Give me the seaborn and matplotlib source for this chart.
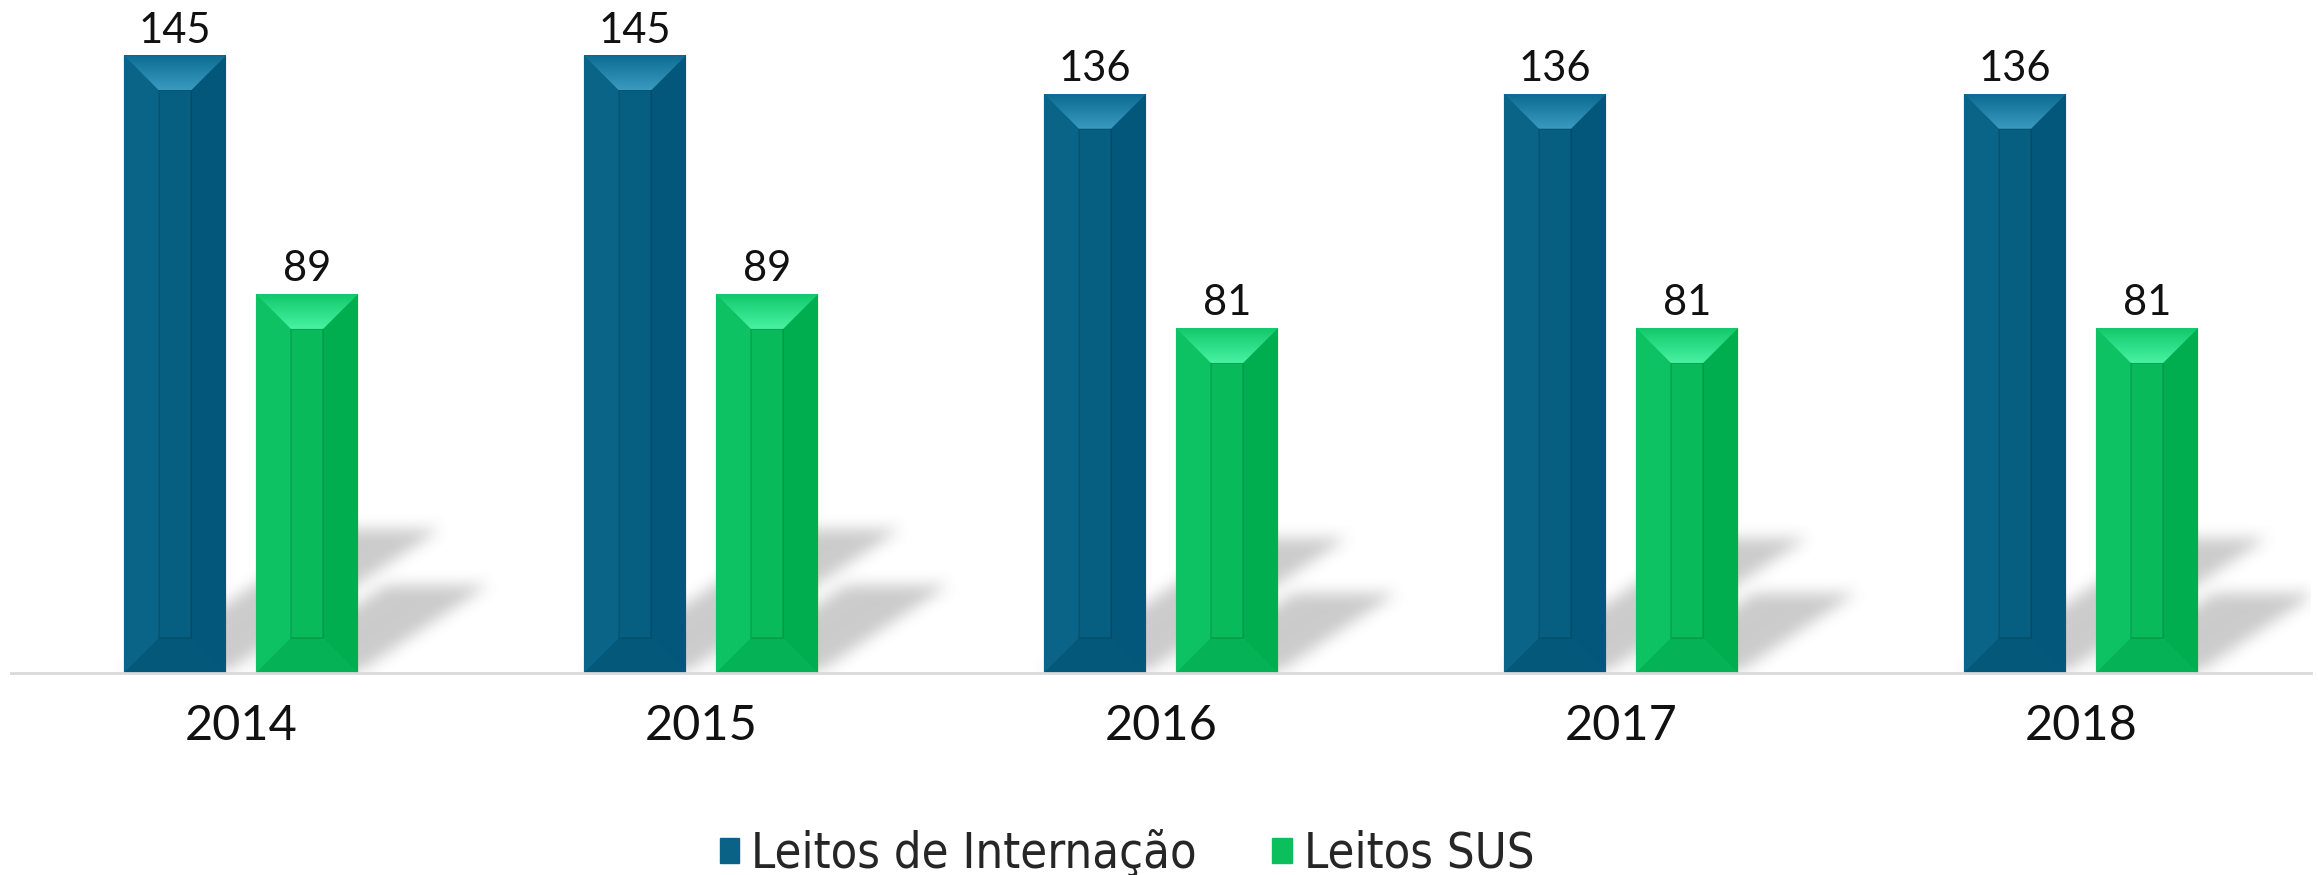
import numpy as np
import pandas as pd
import seaborn as sns
import matplotlib.pyplot as plt
from matplotlib.patches import Polygon, Patch, Rectangle
from matplotlib.colors import LinearSegmentedColormap

# data
years = ["2014", "2015", "2016", "2017", "2018"]
internacao = [145, 145, 136, 136, 136]
sus = [89, 89, 81, 81, 81]
series_names = ["Leitos de Internação", "Leitos SUS"]

df = pd.DataFrame({
    "ano": years * 2,
    "leitos": internacao + sus,
    "serie": [series_names[0]] * len(years) + [series_names[1]] * len(years),
})

# bevel face colours: left, right, inner, bottom, top outer, top inner
faces = {
    series_names[0]: ["#0A6488", "#03577A", "#065F80", "#045879", "#0B6B90", "#3A9AC0"],
    series_names[1]: ["#0CC262", "#01AE4F", "#08BA59", "#05B255", "#12C96B", "#48F2A2"],
}
palette = {series_names[0]: "#0A6386", series_names[1]: "#0BBF5D"}

sns.set_theme(style="white")
plt.rcParams["font.family"] = ["Lato", "DejaVu Sans"]

W, H = 2318, 875
fig = plt.figure(figsize=(W / 100, H / 100), dpi=100)
ax_w, ax_h = 2300, 673
ax = fig.add_axes([11 / W, (H - ax_h) / H, ax_w / W, ax_h / H])
ymax = 158

sns.barplot(data=df, x="ano", y="leitos", hue="serie", palette=palette,
            width=0.574, gap=0.226, saturation=1, ax=ax, legend=False,
            linewidth=0, zorder=1)
ax.set_xlim(-0.5, len(years) - 0.5)
ax.set_ylim(0, ymax)

px_x = ax_w / len(years)   # pixels per category
px_y = ax_h / ymax         # pixels per value unit

# shadows, cast up and right from each bar, blurred
shadow = np.zeros((ax_h, ax_w))
for bar in ax.patches:
    x0 = (bar.get_x() + 0.5) * px_x
    x1 = x0 + bar.get_width() * px_x
    hp = bar.get_height() * px_y
    dx, dy = 0.35 * hp, 0.234 * hp
    for r in range(int(dy)):
        s = r * dx / dy
        shadow[r, int(max(x0 + s, 0)):int(min(x1 + s, ax_w))] = 1

def box_blur(a, k):
    kern = np.ones(k) / k
    a = np.apply_along_axis(lambda v: np.convolve(v, kern, mode="same"), 1, a)
    a = np.apply_along_axis(lambda v: np.convolve(v, kern, mode="same"), 0, a)
    return a

shadow = box_blur(box_blur(shadow, 17), 17)
rgba = np.zeros((ax_h, ax_w, 4))
rgba[..., :3] = 0.5
rgba[..., 3] = shadow * 0.4
ax.imshow(rgba, extent=(-0.5, len(years) - 0.5, 0, ymax), origin="lower",
          aspect="auto", zorder=0.5, interpolation="bilinear")

# bevelled faces on each bar
b = 35
bx, by = b / px_x, b / px_y
names = [series_names[0]] * len(years) + [series_names[1]] * len(years)
for bar, name in zip(ax.patches, names):
    L = bar.get_x()
    R = L + bar.get_width()
    T = bar.get_height()
    c_left, c_right, c_inner, c_bot, c_top0, c_top1 = faces[name]
    ax.add_patch(Polygon([(L, 0), (L, T), (L + bx, T - by), (L + bx, by)],
                         closed=True, fc=c_left, lw=0, zorder=2))
    ax.add_patch(Polygon([(R, 0), (R, T), (R - bx, T - by), (R - bx, by)],
                         closed=True, fc=c_right, lw=0, zorder=2))
    ax.add_patch(Polygon([(L, 0), (R, 0), (R - bx, by), (L + bx, by)],
                         closed=True, fc=c_bot, lw=0, zorder=2))
    ax.add_patch(Rectangle((L + bx, by), R - L - 2 * bx, T - 2 * by,
                           fc=c_inner, ec="#00000022", lw=1.2, zorder=2))
    top = Polygon([(L, T), (R, T), (R - bx, T - by), (L + bx, T - by)],
                  closed=True, fc="none", lw=0, zorder=2)
    ax.add_patch(top)
    cmap = LinearSegmentedColormap.from_list("t", [c_top1, c_top0])
    grad = ax.imshow(np.linspace(0, 1, 64).reshape(-1, 1), cmap=cmap,
                     extent=(L, R, T - by, T), origin="lower", aspect="auto",
                     zorder=2, interpolation="bilinear")
    grad.set_clip_path(top)

ax.set_xlim(-0.5, len(years) - 0.5)
ax.set_ylim(0, ymax)

# value labels
for cont in ax.containers:
    ax.bar_label(cont, fmt="%d", padding=4, fontsize=30, color="#111111")

# axes styling
sns.despine(ax=ax, left=True)
ax.spines["bottom"].set_color("#D9D9D9")
ax.spines["bottom"].set_linewidth(2)
ax.set_yticks([])
ax.set_xlabel("")
ax.set_ylabel("")
ax.tick_params(axis="x", length=0, pad=22, labelsize=35, labelcolor="#111111")

handles = [Patch(color=palette[n]) for n in series_names]
fig.legend(handles, series_names, loc="center", bbox_to_anchor=(1127 / W, 1 - 854 / H),
           ncol=2, frameon=False, handlelength=0.4, handleheight=0.4,
           handletextpad=0.25, columnspacing=1.55,
           prop={"family": ["DejaVu Sans"], "stretch": "condensed", "size": 35})

fig.savefig("out.png", dpi=100)
